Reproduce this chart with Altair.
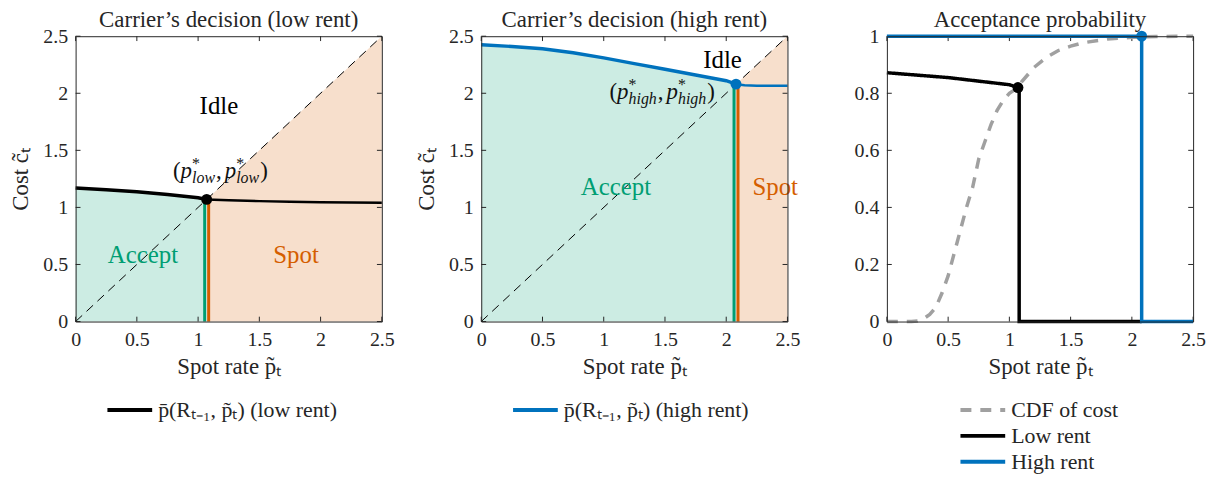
import altair as alt
import pandas as pd

FONT = "Liberation Serif"
INK = "#262626"
GREEN = "#009E73"
ORANGE = "#D55E00"
BLUE = "#0072BD"
GREEN_FILL = "#CCECE3"
ORANGE_FILL = "#F7DFCC"
GRAY = "#A0A0A0"

# ---------------- data ----------------
X_TICKS = [0, 0.5, 1, 1.5, 2, 2.5]
PROB_TICKS = [0, 0.2, 0.4, 0.6, 0.8, 1]

# low rent threshold curve p_bar(R, p)
low_star = 1.07
low_p = [0, 0.25, 0.5, 0.75, 1.0, 1.07, 1.25, 1.5, 1.75, 2.0, 2.25, 2.5]
low_pbar = [1.17, 1.155, 1.138, 1.113, 1.085, 1.07, 1.062, 1.055, 1.05, 1.046, 1.043, 1.04]

# high rent threshold curve
high_star = 2.08
high_p = [0, 0.25, 0.5, 0.75, 1.0, 1.25, 1.5, 1.75, 2.0, 2.08, 2.15, 2.25, 2.5]
high_pbar = [2.425, 2.41, 2.39, 2.355, 2.31, 2.26, 2.21, 2.16, 2.11, 2.08, 2.07, 2.065, 2.065]

# CDF of cost
cdf_p = [0, 0.1, 0.2, 0.25, 0.3, 0.35, 0.4, 0.45, 0.5, 0.55, 0.6, 0.65, 0.7, 0.75,
         0.8, 0.85, 0.9, 0.95, 1.0, 1.07, 1.1, 1.2, 1.3, 1.4, 1.5, 1.6, 1.8, 2.0, 2.2, 2.5]
cdf_v = [0, 0, 0, 0.002, 0.01, 0.025, 0.05, 0.1, 0.16, 0.24, 0.32, 0.4, 0.47, 0.57,
         0.63, 0.69, 0.74, 0.775, 0.80, 0.82, 0.84, 0.89, 0.925, 0.95, 0.965, 0.977, 0.99, 0.996, 0.999, 1.0]

# acceptance probability
acc_low_p = [0, 0.5, 1.0, 1.07, 1.08, 1.08, 2.08]
acc_low_v = [0.872, 0.855, 0.83, 0.82, 0.82, 0, 0]
acc_high_p = [0, 2.08, 2.08, 2.5]
acc_high_v = [1, 1, 0, 0]

LOW_LABEL = "p\u0304(R\u209c\u208b\u2081, p\u0303\u209c) (low rent)"
HIGH_LABEL = "p\u0304(R\u209c\u208b\u2081, p\u0303\u209c) (high rent)"
SERIES3 = ["CDF of cost", "Low rent", "High rent"]

W, H = 308, 287
LEG_Y = 365


def axis(orient, **kw):
    base = dict(orient=orient, grid=False, ticks=False, domain=True, domainColor=INK,
                domainWidth=1, zindex=1, labelFont=FONT, labelFontSize=20, labelColor=INK,
                labelPadding=8, labelFlush=False, titleFont=FONT, titleFontSize=23,
                titleFontWeight="normal", titleColor=INK)
    base.update(kw)
    return alt.Axis(**base)


def box_axis(orient):
    return alt.Axis(orient=orient, grid=False, ticks=False, labels=False, title=None,
                    domain=True, domainColor=INK, domainWidth=1, zindex=1)


def legend(x, y):
    return alt.Legend(title=None, orient="none", legendX=x, legendY=y,
                      symbolType="M-1,0H4", symbolSize=324, symbolStrokeWidth=4,
                      labelFont=FONT, labelFontSize=22, labelColor=INK, labelOffset=31,
                      labelLimit=500, rowPadding=4)


def inner_ticks(xs, ys, xticks, yticks, xdom, ydom):
    """Inward tick marks on all four sides (MATLAB box style), in data units."""
    xl = (xdom[1] - xdom[0]) * 0.016
    yl = (ydom[1] - ydom[0]) * 0.017
    xt = pd.DataFrame({"t": xticks})
    yt = pd.DataFrame({"t": yticks})
    out = []
    for y0, y1 in [(ydom[0], ydom[0] + yl), (ydom[1], ydom[1] - yl)]:
        out.append(alt.Chart(xt).mark_rule(color=INK, strokeWidth=1).encode(
            x=alt.X("t:Q", scale=xs, axis=None),
            y=alt.YDatum(y0, scale=ys, axis=None), y2=alt.datum(y1)))
    for x0, x1 in [(xdom[0], xdom[0] + xl), (xdom[1], xdom[1] - xl)]:
        out.append(alt.Chart(yt).mark_rule(color=INK, strokeWidth=1).encode(
            y=alt.Y("t:Q", scale=ys, axis=None),
            x=alt.XDatum(x0, scale=xs, axis=None), x2=alt.datum(x1)))
    return out


def math_label(x, y, sub, xs, ys, size=23, subsize=16):
    """(p*_sub, p*_sub) built from pieces."""
    wtab = {"(": 0.333, ")": 0.333, ",": 0.25, "p": 0.5, "l": 0.278, "o": 0.5, "w": 0.667,
            "h": 0.5, "i": 0.278, "g": 0.5}
    subw = sum(wtab[c] for c in sub) * subsize
    pieces = []
    cur = 0.0

    def add(text, fs, dy, italic):
        pieces.append((text, fs, dy, italic, cur))

    add("(", size, 0, False); cur += wtab["("] * size
    for k in range(2):
        add("p", size, 0, True); cur += wtab["p"] * size
        add("*", subsize, -9, False)
        add(sub, subsize, 5, True); cur += subw + 1
        if k == 0:
            add(",", size, 0, False); cur += wtab[","] * size + 3
    add(")", size, 0, False)
    layers = []
    for text, fs, dy, italic, dx in pieces:
        layers.append(
            alt.Chart().mark_text(font=FONT, fontSize=fs, fontStyle="italic" if italic else "normal",
                                  align="left", baseline="alphabetic", dx=dx, dy=dy, color="#111111")
            .encode(x=alt.XDatum(x, scale=xs, axis=None), y=alt.YDatum(y, scale=ys, axis=None),
                    text=alt.value(text))
        )
    return layers


def region_text(txt, x, y, color, xs, ys):
    return alt.Chart().mark_text(font=FONT, fontSize=25, color=color, align="center",
                                 baseline="middle").encode(
        x=alt.XDatum(x, scale=xs, axis=None), y=alt.YDatum(y, scale=ys, axis=None),
        text=alt.value(txt))


def decision_panel(title, p, pbar, star, label, color, sub, annot_xy, idle_xy, acc_xy, spot_xy):
    xs = alt.Scale(domain=[0, 2.5], nice=False, zero=False)
    ys = alt.Scale(domain=[0, 2.5], nice=False, zero=False)
    curve = pd.DataFrame({"p": p, "pbar": pbar, "series": label})
    left = curve[curve.p <= star]
    right = curve[curve.p >= star]
    star_val = float(curve.loc[curve.p == star, "pbar"].iloc[0])
    diag = pd.DataFrame({"p": [0, 2.5], "c": [0, 2.5]})
    spot = pd.DataFrame({"p": [star, 2.5], "c": [star, 2.5]})
    pt = pd.DataFrame({"p": [star], "pbar": [star_val]})

    cscale = alt.Scale(domain=[label], range=[color])

    green = alt.Chart(left).mark_area(color=GREEN_FILL, opacity=1).encode(
        x=alt.X("p:Q", scale=xs, axis=axis("bottom", values=X_TICKS, format="~g",
                                           title="Spot rate p\u0303\u209c", titlePadding=6)),
        y=alt.Y("pbar:Q", scale=ys, axis=axis("left", values=X_TICKS, format="~g",
                                              title="Cost c\u0303\u209c", titlePadding=10)),
        y2=alt.datum(0))
    orange = alt.Chart(spot).mark_area(color=ORANGE_FILL, opacity=1).encode(
        x=alt.X("p:Q", scale=xs, axis=None), y=alt.Y("c:Q", scale=ys, axis=None), y2=alt.datum(0))
    dline = alt.Chart(diag).mark_line(color="#000000", strokeWidth=1, strokeDash=[9, 6]).encode(
        x=alt.X("p:Q", scale=xs, axis=box_axis("top")),
        y=alt.Y("c:Q", scale=ys, axis=box_axis("right")))
    gr = alt.Chart(pt).mark_rule(color=GREEN, strokeWidth=3, xOffset=-2).encode(
        x=alt.X("p:Q", scale=xs, axis=None), y=alt.Y("pbar:Q", scale=ys, axis=None), y2=alt.datum(0))
    orr = alt.Chart(pt).mark_rule(color=ORANGE, strokeWidth=3, xOffset=2).encode(
        x=alt.X("p:Q", scale=xs, axis=None), y=alt.Y("pbar:Q", scale=ys, axis=None), y2=alt.datum(0))
    lline = alt.Chart(left).mark_line(strokeWidth=3.5).encode(
        x=alt.X("p:Q", scale=xs, axis=None), y=alt.Y("pbar:Q", scale=ys, axis=None),
        color=alt.Color("series:N", scale=cscale, legend=legend(30, LEG_Y)))
    rline = alt.Chart(right).mark_line(strokeWidth=2.5).encode(
        x=alt.X("p:Q", scale=xs, axis=None), y=alt.Y("pbar:Q", scale=ys, axis=None),
        color=alt.Color("series:N", scale=cscale, legend=None))
    dot = alt.Chart(pt).mark_circle(size=120, opacity=1, color=color).encode(
        x=alt.X("p:Q", scale=xs, axis=None), y=alt.Y("pbar:Q", scale=ys, axis=None))

    ticks = inner_ticks(xs, ys, X_TICKS, X_TICKS, [0, 2.5], [0, 2.5])
    texts = [region_text("Idle", idle_xy[0], idle_xy[1], "#000000", xs, ys),
             region_text("Accept", acc_xy[0], acc_xy[1], GREEN, xs, ys),
             region_text("Spot", spot_xy[0], spot_xy[1], ORANGE, xs, ys)]
    ann = math_label(annot_xy[0], annot_xy[1], sub, xs, ys)

    return alt.layer(green, orange, *ticks, dline, gr, orr, lline, rline, dot, *texts, *ann
                     ).resolve_axis(x="independent", y="independent").properties(
        width=W, height=H, title=title)


p1 = decision_panel("Carrier\u2019s decision (low rent)", low_p, low_pbar, low_star, LOW_LABEL,
                    "#000000", "low", (0.795, 1.254), (1.17, 1.886), (0.55, 0.58), (1.8, 0.58))
p2 = decision_panel("Carrier\u2019s decision (high rent)", high_p, high_pbar, high_star, HIGH_LABEL,
                    BLUE, "high", (1.047, 1.946), (1.97, 2.29), (1.1, 1.18), (2.4, 1.18))

# panel 3
xs3 = alt.Scale(domain=[0, 2.5], nice=False, zero=False)
ys3 = alt.Scale(domain=[0, 1], nice=False, zero=False)
rows = []
for i, (a, b) in enumerate(zip(cdf_p, cdf_v)):
    rows.append({"p": a, "v": b, "series": SERIES3[0], "o": i})
for i, (a, b) in enumerate(zip(acc_low_p, acc_low_v)):
    rows.append({"p": a, "v": b, "series": SERIES3[1], "o": i})
for i, (a, b) in enumerate(zip(acc_high_p, acc_high_v)):
    rows.append({"p": a, "v": b, "series": SERIES3[2], "o": i})
acc = pd.DataFrame(rows)
pts3 = pd.DataFrame({"p": [acc_low_p[3], acc_high_p[1]], "v": [acc_low_v[3], acc_high_v[1]],
                     "series": [SERIES3[1], SERIES3[2]]})

leg3 = legend(72, LEG_Y)
lines3 = alt.Chart(acc).mark_line(strokeWidth=3.5).encode(
    x=alt.X("p:Q", scale=xs3, axis=axis("bottom", values=X_TICKS, format="~g",
                                        title="Spot rate p\u0303\u209c", titlePadding=6)),
    y=alt.Y("v:Q", scale=ys3, axis=axis("left", values=PROB_TICKS, format="~g", title=None)),
    color=alt.Color("series:N", scale=alt.Scale(domain=SERIES3, range=[GRAY, "#000000", BLUE]),
                    legend=leg3),
    strokeDash=alt.StrokeDash("series:N", scale=alt.Scale(domain=SERIES3,
                                                          range=[[11, 9], [1, 0], [1, 0]]),
                              legend=leg3),
    detail="series:N", order="o:Q")
box3 = alt.Chart(acc).mark_line(opacity=0).encode(
    x=alt.X("p:Q", scale=xs3, axis=box_axis("top")),
    y=alt.Y("v:Q", scale=ys3, axis=box_axis("right")), detail="series:N")
dots3 = alt.Chart(pts3).mark_circle(size=120, opacity=1).encode(
    x=alt.X("p:Q", scale=xs3, axis=None), y=alt.Y("v:Q", scale=ys3, axis=None),
    color=alt.Color("series:N", scale=alt.Scale(domain=SERIES3, range=[GRAY, "#000000", BLUE]),
                    legend=None))
ticks3 = inner_ticks(xs3, ys3, X_TICKS, PROB_TICKS, [0, 2.5], [0, 1])
p3 = alt.layer(*ticks3, lines3, box3, dots3).resolve_axis(x="independent", y="independent").properties(
    width=W, height=H, title="Acceptance probability")

chart = alt.hconcat(p1, p2, p3, spacing=100, bounds="flush").resolve_scale(
    color="independent", strokeDash="independent").resolve_legend(
    color="independent", strokeDash="independent").properties(
    padding={"left": 2, "top": 0, "right": 5, "bottom": 5}).configure_view(
    stroke=None).configure_title(font=FONT, fontSize=23, fontWeight="normal", color=INK, offset=-6)

chart.save("out.html", embed_options={"renderer": "svg", "actions": False})
